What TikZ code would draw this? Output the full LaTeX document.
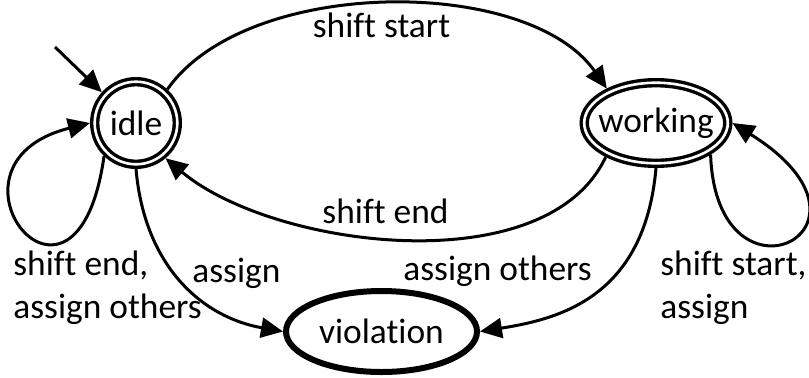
\documentclass[tikz,border=0pt]{standalone}
\usepackage{fontspec}
\setmainfont{Carlito}[Ligatures=NoCommon]
\usetikzlibrary{arrows.meta,shapes.geometric}
\begin{document}
\begin{tikzpicture}[x=0.5pt,y=0.5pt,
  font=\fontsize{17.7}{21.5}\selectfont,
  edge/.style={line width=1.5pt,-{Triangle[length=11pt,width=10pt]}},
  dstate/.style={draw,double,line width=1.7pt,double distance=1.3pt,fill=white,inner sep=0pt,outer sep=2.35pt},
  vstate/.style={ellipse,draw,line width=3pt,fill=white,inner sep=0pt,outer sep=1.5pt,minimum width=95.5pt,minimum height=40.5pt},
  lbl/.style={inner sep=0pt}]
\useasboundingbox (0,0) rectangle (809,-377);
% states
\node[dstate,circle,minimum size=41.3pt] (idle) at (136,-123) {idle};
\node[dstate,ellipse,minimum width=71.8pt,minimum height=40.3pt] (working) at (656,-123) {\makebox[0pt]{working}};
\node[vstate] (violation) at (381.5,-331.5) {violation};
% initial arrow
\coordinate (init) at (55,-47);
\draw[edge] (init) -- (idle.138);
% transitions
\draw[edge] (idle.47) .. controls +(55:138) and +(125:138) .. (working.145);
\draw[edge] (working.214) .. controls +(245:140) and +(-40:140) .. (idle.310);
\draw[edge] (idle.226) .. controls +(-98:200) and +(194:170) .. (idle.180);
\draw[edge] (working.-30) .. controls +(-88:165) and +(-32:200) .. (working.0);
\draw[edge] (idle.270) .. controls +(-85:100) and +(170:80) .. (violation.180);
\draw[edge] (working.270) .. controls +(-95:130) and +(9:80) .. (violation.0);
% labels
\node[lbl,anchor=base] (lss) at (381.5,-37) {shift start};
\node[lbl,anchor=base] (lse) at (385.5,-223) {shift end};
\node[lbl,anchor=base west,align=left] (lidle) at (13,-318) {shift end,\\assign others};
\node[lbl,anchor=base west] (la) at (192,-282) {assign};
\node[lbl,anchor=base west] (lao) at (403,-280) {assign others};
\node[lbl,anchor=base west,align=left] (lwork) at (660,-318) {shift start,\\assign};
\end{tikzpicture}
\end{document}
